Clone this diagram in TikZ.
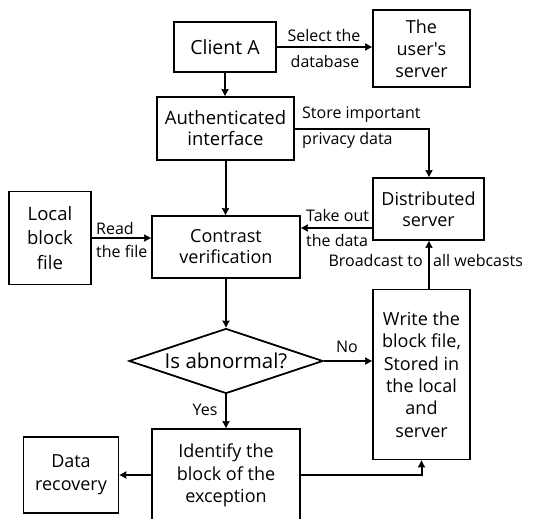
\documentclass[tikz,border=0pt]{standalone}
\usepackage{fontspec}
\setmainfont{Open Sans}
\usetikzlibrary{shapes.geometric,arrows.meta}
\begin{document}
\begin{tikzpicture}[x=1pt,y=-1pt,
  box/.style={draw,line width=1.8pt,align=center,inner sep=1pt,
    font=\fontsize{18}{22}\selectfont},
  lbl/.style={inner sep=0pt,font=\fontsize{16}{18}\selectfont},
  arr/.style={line width=2pt,-{Stealth[length=7pt,width=7pt,inset=0.5pt]}}]
\useasboundingbox (0,0) rectangle (541,519);

% process boxes
\node[box,minimum width=102,minimum height=50,font=\fontsize{19.5}{22}\selectfont] (client) at (225,47) {Client A};
\node[box,minimum width=97,minimum height=77] (user) at (421.5,48.5) {The\\user\textquotesingle s\\server};
\node[box,minimum width=137,minimum height=63,font=\fontsize{18.5}{21}\selectfont] (auth) at (225.5,128.5) {Authenticated\\interface};
\node[box,minimum width=111,minimum height=62,font=\fontsize{18}{21}\selectfont] (dist) at (428.5,209) {Distributed\\server};
\node[box,minimum width=82,minimum height=93,font=\fontsize{18.5}{24.5}\selectfont] (local) at (50,238) {Local\\block\\file};
\node[box,minimum width=148,minimum height=62,font=\fontsize{18}{21}\selectfont] (contrast) at (226,247) {Contrast\\verification};
\node[box,shape=diamond,aspect=3,minimum width=194,minimum height=65,inner sep=0pt,
  font=\fontsize{20.5}{22}\selectfont] (abn) at (226,361) {Is abnormal?};
\node[box,minimum width=97,minimum height=170,font=\fontsize{18}{22.4}\selectfont] (write) at (421.5,374.5)
  {Write the\\block file,\\Stored in\\the local\\and\\server};
\node[box,minimum width=148,minimum height=93,font=\fontsize{18}{22.5}\selectfont] (ident) at (226,475.5)
  {Identify the\\block of the\\exception};
\node[box,minimum width=95,minimum height=76,font=\fontsize{18}{23}\selectfont] (recov) at (71,475) {Data\\recovery};

% connectors
\draw[arr] (client.east) -- (client.east -| user.west);
\node[lbl] (sel1) at (324,36) {Select the};
\node[lbl] (sel2) at (325,61) {database};

\draw[arr] (client.south) -- (client.south |- auth.north);

\coordinate (bend) at (429,129);
\draw[arr] (auth.east |- bend) -- (bend) -- (bend |- dist.north);
\node[lbl,anchor=west] (st1) at (302,115) {Store important};
\node[lbl,anchor=west] (st2) at (302,140) {privacy data};

\draw[arr] (auth.south) -- (auth.south |- contrast.north);

\draw[arr] (local.east) -- (local.east -| contrast.west);
\node[lbl,anchor=west] (rd1) at (96,228) {Read};
\node[lbl,anchor=west] (rd2) at (96,251) {the file};

\coordinate (take) at (373,228);
\draw[arr] (take) -- (take -| contrast.east);
\node[lbl,anchor=west] (tk1) at (306,215) {Take out};
\node[lbl,anchor=west] (tk2) at (306,240) {the data};

\coordinate (bc) at (429,290);
\draw[arr] (bc) -- (bc |- dist.south);
\node[lbl,anchor=east] (bc1) at (423,260) {Broadcast to};
\node[lbl,anchor=west] (bc2) at (433,260) {all webcasts};

\draw[arr] (contrast.south) -- (abn.north);

\draw[arr] (abn.east) -- (abn.east -| write.west);
\node[lbl] (no) at (347,347) {No};

\draw[arr] (abn.south) -- (abn.south |- ident.north);
\node[lbl] (yes) at (205,410) {Yes};

\draw[arr] (ident.west |- recov.east) -- (recov.east);
\draw[arr] (ident.east |- recov.east) -| (write.south);
\end{tikzpicture}
\end{document}
